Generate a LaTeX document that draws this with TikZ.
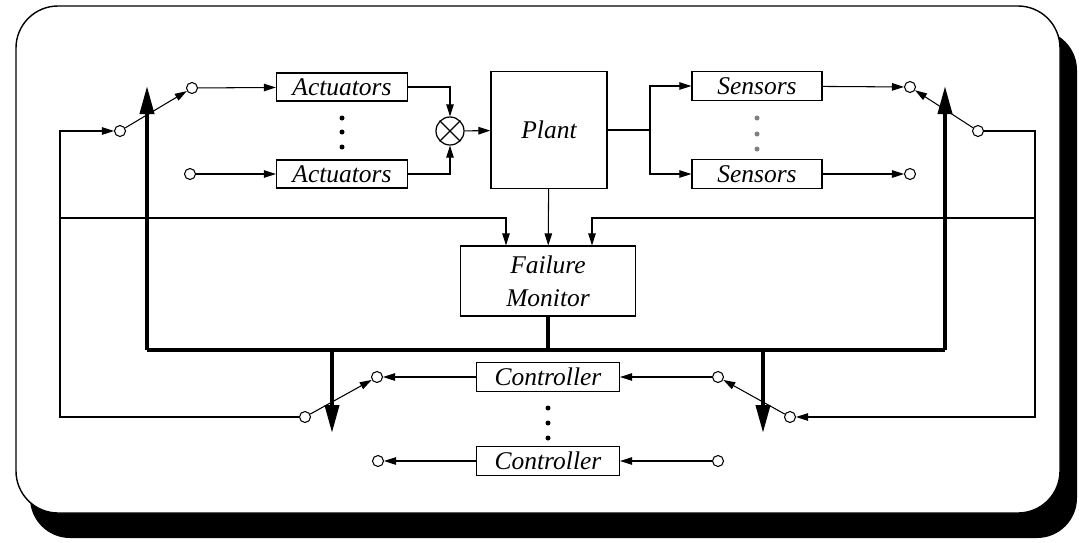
\documentclass[tikz,border=0pt]{standalone}
\usepackage{fontspec}
\setmainfont{Liberation Serif}
\usepackage{tikz}
\usetikzlibrary{arrows.meta, calc}
\tikzset{
    blk/.style={draw, line width=0.7pt, inner sep=0pt, font=\fontsize{14.5}{17}\selectfont\itshape},
    sw/.style={draw, circle, line width=0.6pt, minimum size=0.22cm, inner sep=0pt},
    sig/.style={line width=0.6pt, -{Triangle[length=2.4mm,width=1.5mm]}},
    cmd/.style={line width=2.2pt, -{Triangle[length=5.6mm,width=2.8mm]}},
    dot/.style={fill, circle, inner sep=0pt, minimum size=0.1cm},
}

\begin{document}
\begin{tikzpicture}[x=0.02cm, y=-0.02cm]
    \useasboundingbox (0,0) rectangle (1079,542);
    % frame with shadow
    \fill[black, rounded corners=0.8cm] (30,30) rectangle (1077,538);
    \filldraw[fill=white, draw=black, line width=0.8pt, rounded corners=0.84cm] (16,6) rectangle (1060,513);

    \coordinate (P1) at (60,131);
    \coordinate (P2) at (60,218);
    \coordinate (P3) at (60,417);
    \coordinate (P4) at (650,130);
    \coordinate (P5) at (1035,131);
    \coordinate (P6) at (1035,218);
    \coordinate (P7) at (1035,417);
    \coordinate (P8) at (548,350);
    \coordinate (P9) at (147,350);
    \coordinate (P10) at (945,350);
    \coordinate (P11) at (332,350);
    \coordinate (P12) at (763,350);

    % blocks
    \node[blk, minimum width=2.62cm, minimum height=0.56cm] (act1) at (342,87) {Actuators};
    \node[blk, minimum width=2.62cm, minimum height=0.56cm] (act2) at (342,174) {Actuators};
    \node[blk, minimum width=2.32cm, minimum height=2.34cm] (plant) at (549,130) {Plant};
    \node[blk, minimum width=2.6cm, minimum height=0.58cm] (sen1) at (757,86) {Sensors};
    \node[blk, minimum width=2.6cm, minimum height=0.58cm] (sen2) at (757,174) {Sensors};
    \node[blk, minimum width=3.5cm, minimum height=1.4cm, align=center] (fm) at (548,281) {Failure\\[2pt]Monitor};
    \node[blk, minimum width=2.86cm, minimum height=0.58cm] (ctl1) at (548,377) {Controller};
    \node[blk, minimum width=2.86cm, minimum height=0.58cm] (ctl2) at (548,461) {Controller};
    \node[draw, circle, line width=0.7pt, minimum size=0.56cm, inner sep=0pt] (sum) at (450,131) {};
    \draw[line width=0.7pt] (sum.north east) -- (sum.south west) (sum.north west) -- (sum.south east);

    \foreach \y in {118,132,147} \node[dot] at (342,\y) {};
    \foreach \y in {118,134,149} \node[dot, gray] at (757,\y) {};
    \foreach \y in {408,423,438} \node[dot] at (548,\y) {};

    % switches
    \node[sw] (swa) at (120,131) {};
    \node[sw] (swa1) at (192,88) {};
    \node[sw] (swa2) at (190,174) {};
    \node[sw] (sws) at (978,131) {};
    \node[sw] (sws1) at (910,87) {};
    \node[sw] (sws2) at (910,174) {};
    \node[sw] (swo) at (305,417) {};
    \node[sw] (swo1) at (377,377) {};
    \node[sw] (swo2) at (378,461) {};
    \node[sw] (swi) at (790,417) {};
    \node[sw] (swi1) at (718,377) {};
    \node[sw] (swi2) at (718,461) {};

    % signals
    \draw[sig] (swo) -- (P3) -- (P1) -- (swa);
    \draw[sig] (P2) -| ($(fm.north)+(-42,0)$);
    \draw[sig] (swa) -- (swa1);
    \draw[sig] (swa1) -- (act1);
    \draw[sig] (swa2) -- (act2);
    \draw[sig] (act1) -| (sum);
    \draw[sig] (act2) -| (sum);
    \draw[sig] (sum) -- (plant);
    \draw[sig] (plant.east) -- (P4) |- (sen1);
    \draw[sig] (P4) |- (sen2);
    \draw[sig] (plant) -- (fm);
    \draw[sig] (sen1) -- (sws1);
    \draw[sig] (sen2) -- (sws2);
    \draw[sig] (sws) -- (sws1);
    \draw[sig] (sws) -- (P5) -- (P7) -- (swi);
    \draw[sig] (P6) -| ($(fm.north)+(44,0)$);
    \draw[sig] (swi) -- (swi1);
    \draw[sig] (swi1) -- (ctl1);
    \draw[sig] (swi2) -- (ctl2);
    \draw[sig] (ctl1) -- (swo1);
    \draw[sig] (ctl2) -- (swo2);
    \draw[sig] (swo) -- (swo1);

    % reconfiguration commands
    \draw[line width=2.2pt] (fm.south) -- (P8);
    \draw[line width=2.2pt] (P9) -- (P10);
    \draw[cmd] (P9) -- (147,86);
    \draw[cmd] (P10) -- (945,86);
    \draw[cmd] (P11) -- (332,433);
    \draw[cmd] (P12) -- (763,433);
\end{tikzpicture}
\end{document}
